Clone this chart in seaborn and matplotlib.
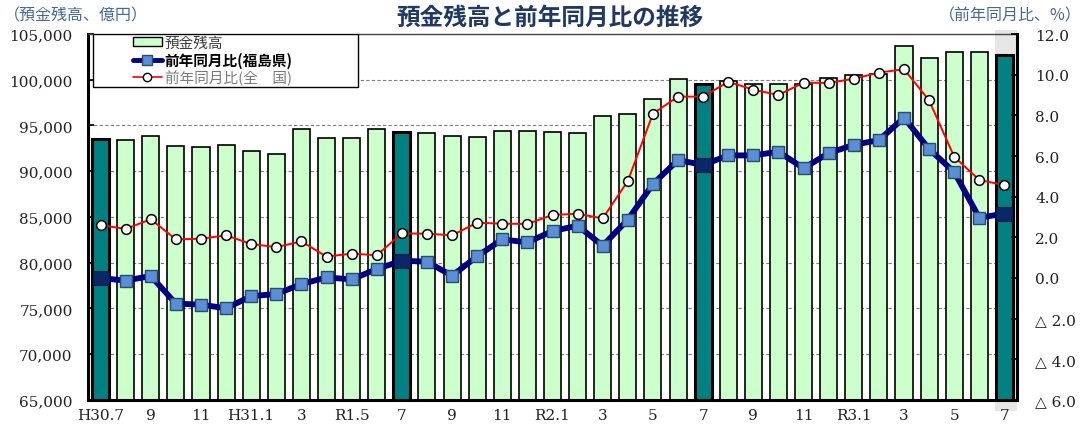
import numpy as np
import pandas as pd
import matplotlib
matplotlib.use("Agg")
import matplotlib.pyplot as plt
from matplotlib.patches import Patch, Rectangle
from matplotlib.lines import Line2D
from matplotlib.path import Path
import seaborn as sns

# ---- data -------------------------------------------------------------
months = [
    "H30.7", "H30.8", "H30.9", "H30.10", "H30.11", "H30.12",
    "H31.1", "H31.2", "H31.3", "H31.4",
    "R1.5", "R1.6", "R1.7", "R1.8", "R1.9", "R1.10", "R1.11", "R1.12",
    "R2.1", "R2.2", "R2.3", "R2.4", "R2.5", "R2.6", "R2.7", "R2.8",
    "R2.9", "R2.10", "R2.11", "R2.12",
    "R3.1", "R3.2", "R3.3", "R3.4", "R3.5", "R3.6", "R3.7",
]
tick_labels = [
    "H30.7", "", "9", "", "11", "", "H31.1", "", "3", "", "R1.5", "",
    "7", "", "9", "", "11", "", "R2.1", "", "3", "", "5", "",
    "7", "", "9", "", "11", "", "R3.1", "", "3", "", "5", "", "7",
]
# deposit balance (100 million yen)
deposits = [
    93550, 93400, 93800, 92720, 92650, 92830, 92170, 91880, 94600, 93620,
    93620, 94600, 94300, 94130, 93880, 93700, 94350, 94380, 94280, 94220,
    96090, 96250, 97920, 100070, 99560, 99840, 99560, 99560, 99490, 100220,
    100510, 100580, 103690, 102340, 103070, 102990, 102700,
]
# year-on-year change, Fukushima prefecture (%)
yoy_fukushima = [
    0.00, -0.13, 0.10, -1.26, -1.31, -1.49, -0.89, -0.79, -0.30, 0.03,
    -0.07, 0.44, 0.85, 0.80, 0.11, 1.07, 1.90, 1.75, 2.31, 2.57,
    1.59, 2.87, 4.62, 5.80, 5.56, 6.03, 6.03, 6.21, 5.40, 6.14,
    6.55, 6.78, 7.88, 6.34, 5.21, 2.96, 3.17,
]
# year-on-year change, nationwide (%)
yoy_national = [
    2.61, 2.41, 2.89, 1.90, 1.93, 2.10, 1.67, 1.52, 1.80, 1.05,
    1.20, 1.12, 2.19, 2.18, 2.10, 2.72, 2.67, 2.66, 3.10, 3.16,
    2.93, 4.77, 8.08, 8.92, 8.92, 9.65, 9.26, 9.00, 9.61, 9.59,
    9.80, 10.10, 10.27, 8.73, 5.96, 4.82, 4.57,
]

left_ticks = list(range(65000, 105001, 5000))
right_ticks = list(range(-6, 13, 2))

# ---- style ------------------------------------------------------------
sns.set_theme(style="white")
plt.rcParams["font.family"] = ["Noto Sans CJK JP", "DejaVu Sans"]
num_font = ["DejaVu Serif", "DejaVu Sans"]

LIGHT = "#ccffcc"
TEAL = "#008080"
NAVY = "#000080"
SQUARE = "#5a8ed6"
DARK_SQ = "#0b2766"
LABEL_BLUE = "#44679c"

df = pd.DataFrame({
    "month": months,
    "deposit": deposits,
    "kind": ["july" if m.endswith(".7") else "other" for m in months],
})
xpos = np.arange(len(months))
july_idx = [i for i, m in enumerate(months) if m.endswith(".7")]

fig = plt.figure(figsize=(10.9, 4.27), dpi=100)
ax = fig.add_axes([88 / 1090, 1 - 401 / 427, 929 / 1090, 366 / 427])

# highlight behind the latest month
span = ax.axvspan(35.62, 36.5, ymin=-0.03, ymax=1.012, color="#e6e6e6",
                  zorder=0, lw=0)
span.set_clip_on(False)

sns.barplot(data=df, x="month", y="deposit", hue="kind",
            palette={"july": TEAL, "other": LIGHT}, dodge=False,
            saturation=1, width=0.68, edgecolor="black", linewidth=1.2,
            legend=False, ax=ax, zorder=2)
for p in ax.patches:
    if matplotlib.colors.to_hex(p.get_facecolor()) == TEAL:
        p.set_linewidth(2.2)

ax.set_ylim(65000, 105000)
ax.set_xlim(-0.5, len(months) - 0.5)
ax.set_xlabel("")
ax.set_ylabel("")
ax.set_yticks(left_ticks)
ax.set_yticklabels([f"{v:,}" for v in left_ticks], family=num_font,
                   fontsize=11, color="#222222")
ax.set_xticks(xpos)
ax.set_xticklabels(tick_labels, family=num_font, fontsize=11,
                   color="#222222")
ax.set_xticks(xpos[:-1] + 0.5, minor=True)
ax.tick_params(axis="x", which="major", length=0, pad=6)
ax.tick_params(axis="x", which="minor", direction="in", length=4,
               width=1, color="black")
ax.tick_params(axis="y", direction="in", length=4, pad=11, color="black",
               left=True)
ax.yaxis.grid(True, linestyle=(0, (3, 2)), color="#808080", linewidth=0.8)
ax.xaxis.grid(False)
ax.set_axisbelow(True)

for side in ("left", "bottom"):
    ax.spines[side].set_linewidth(2.2)
    ax.spines[side].set_color("black")
ax.spines["top"].set_linewidth(1.0)
ax.spines["top"].set_color("#444444")
ax.spines["right"].set_visible(False)

# ---- year-on-year lines on the right axis ------------------------------
ax2 = ax.twinx()
sns.lineplot(x=xpos, y=yoy_fukushima, ax=ax2, color=NAVY, linewidth=4.2,
             marker="s", markersize=9, markerfacecolor=SQUARE,
             markeredgecolor="#2c4a6e", markeredgewidth=1.0, zorder=3)
wide_sq = Path([(-1, -0.8), (1, -0.8), (1, 0.8), (-1, 0.8), (-1, -0.8)],
               closed=True)
ax2.plot(xpos[july_idx], np.array(yoy_fukushima)[july_idx], ls="none",
         marker=wide_sq, markersize=12, markerfacecolor=DARK_SQ,
         markeredgecolor="#061a44", markeredgewidth=0.8, zorder=4)
sns.lineplot(x=xpos, y=yoy_national, ax=ax2, color="red", linewidth=1.4,
             marker="o", markersize=7, markerfacecolor="white",
             markeredgecolor="black", markeredgewidth=1.1, zorder=5)

ax2.set_ylim(-6, 12)
ax2.set_xlim(-0.5, len(months) - 0.5)
ax2.set_ylabel("")
ax2.set_yticks(right_ticks)
ax2.set_yticklabels(
    [("△ " + f"{abs(v):.1f}") if v < 0 else f"{v:.1f}" for v in right_ticks],
    family=num_font, fontsize=11, color="#222222")
ax2.tick_params(axis="y", direction="in", length=4, pad=13, color="black",
                right=True)
ax2.grid(False)
for side in ("left", "top", "bottom"):
    ax2.spines[side].set_visible(False)
ax2.spines["right"].set_linewidth(2.2)
ax2.spines["right"].set_color("black")

# ---- legend -------------------------------------------------------------
frame = Rectangle((5 / 929, 1 - 53 / 366), 265 / 929, 53 / 366,
                  transform=ax2.transAxes, facecolor="white",
                  edgecolor="black", linewidth=1.0, zorder=6)
ax2.add_patch(frame)
handles = [
    Patch(facecolor=LIGHT, edgecolor="black", linewidth=1.0),
    Line2D([], [], color=NAVY, linewidth=3.5, marker="s", markersize=7,
           markerfacecolor=SQUARE, markeredgecolor="#2c4a6e"),
    Line2D([], [], color="red", linewidth=1.2, marker="o", markersize=6,
           markerfacecolor="white", markeredgecolor="black"),
]
labels = ["預金残高", "前年同月比(福島県)", "前年同月比(全　国)"]
leg = ax2.legend(handles, labels, loc="upper left",
                 bbox_to_anchor=(44 / 929, 1 - 1 / 366), frameon=False,
                 fontsize=10.5, handlelength=2.0, handleheight=0.6,
                 handletextpad=0.2, labelspacing=0.12, borderpad=0.05,
                 borderaxespad=0)
leg.set_zorder(7)
txts = leg.get_texts()
txts[0].set_color("#3a3a3a")
txts[1].set_color("black")
txts[1].set_fontweight("bold")
txts[2].set_color("#7a7a7a")

# ---- titles -------------------------------------------------------------
fig.text(0.505, 1 - 18 / 427, "預金残高と前年同月比の推移", ha="center",
         va="center", fontsize=17, fontweight="bold", color="#1f3864")
fig.text(4 / 1090, 1 - 16 / 427, "（預金残高、億円）", ha="left",
         va="center", fontsize=11.5, color=LABEL_BLUE)
fig.text(1082 / 1090, 1 - 16 / 427, "（前年同月比、%）", ha="right",
         va="center", fontsize=11.5, color=LABEL_BLUE)

fig.savefig("out.png", dpi=100)
